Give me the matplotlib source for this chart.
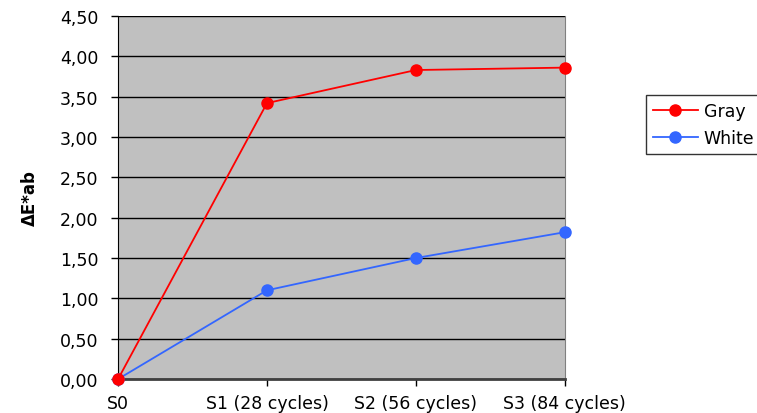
import numpy as np
import matplotlib.pyplot as plt
from matplotlib.ticker import FuncFormatter

plt.rcParams['font.family'] = ['DejaVu Sans']

# data
categories = ["S0", "S1 (28 cycles)", "S2 (56 cycles)", "S3 (84 cycles)"]
gray_vals = [0.00, 3.42, 3.83, 3.86]
white_vals = [0.00, 1.10, 1.50, 1.82]
y_ticks = [0, 0.5, 1.0, 1.5, 2.0, 2.5, 3.0, 3.5, 4.0, 4.5]


def main():
    fig = plt.figure(figsize=(7.57, 4.14), dpi=100)
    ax = fig.add_axes([0.156, 0.082, 0.59, 0.877])
    ax.set_facecolor('#C0C0C0')

    x = np.arange(len(categories))
    ax.plot(x, gray_vals, color='#FF0000', lw=1.3, marker='o', ms=8,
            label='Gray', clip_on=False, zorder=4)
    ax.plot(x, white_vals, color='#3366FF', lw=1.3, marker='o', ms=8,
            label='White', clip_on=False, zorder=3)

    ax.set_xlim(0, 3)
    ax.set_ylim(0, 4.5)
    ax.set_xticks(x)
    ax.set_xticklabels(categories)
    ax.set_yticks(y_ticks)
    ax.yaxis.set_major_formatter(FuncFormatter(lambda v, p: f"{v:.2f}".replace('.', ',')))

    ax.grid(axis='y', color='black', lw=1)
    ax.set_axisbelow(True)
    ax.tick_params(axis='both', labelsize=12.5, length=5, direction='out', width=1)
    ax.tick_params(axis='x', pad=5.5)
    ax.tick_params(axis='y', pad=9)

    ax.spines['top'].set_visible(False)
    ax.spines['left'].set_color('black')
    ax.spines['bottom'].set_color('#404040')
    ax.spines['bottom'].set_linewidth(2)
    ax.spines['right'].set_color('#808080')

    # y label placed in figure coordinates
    fig.text(30 / 757, 1 - 198 / 414, 'ΔE*ab', rotation=90, ha='center', va='center',
             fontsize=12, fontweight='bold')

    leg = fig.legend(loc='upper left', bbox_to_anchor=(0.853, 0.767),
                     fontsize=12.5, frameon=True, fancybox=False,
                     handlelength=2.6, borderpad=0.4, labelspacing=0.5,
                     handletextpad=0.35, borderaxespad=0)
    leg.get_frame().set_edgecolor('black')
    leg.get_frame().set_linewidth(1)

    fig.savefig('out.png', dpi=100)


if __name__ == "__main__":
    main()
